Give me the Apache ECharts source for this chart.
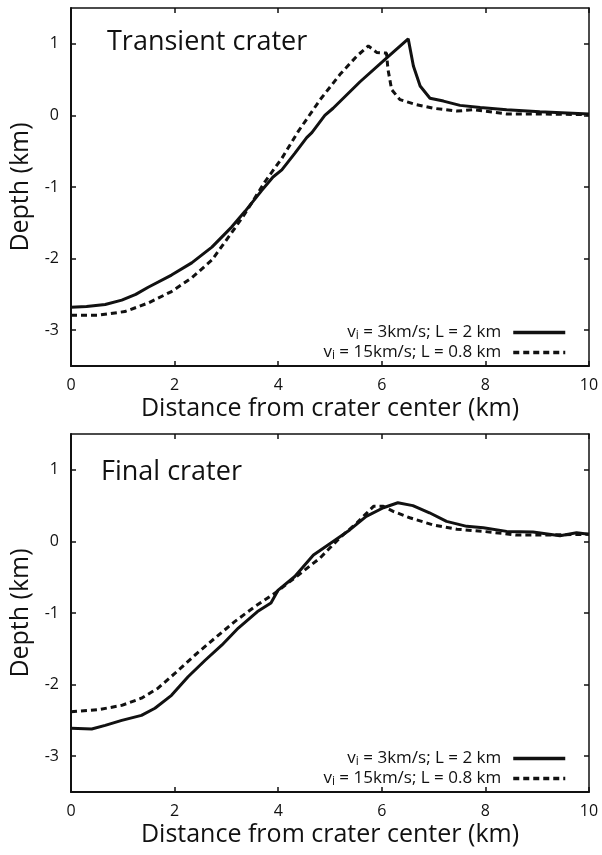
<!DOCTYPE html>
<html>
<head>
<meta charset="utf-8">
<script src="https://cdn.jsdelivr.net/npm/echarts@6/dist/echarts.min.js"></script>
<style>
  html, body { margin: 0; padding: 0; background: #fff; }
  #chart { width: 602px; height: 855px; }
</style>
</head>
<body>
<div id="chart"></div>
<script>
// series names (legend)
var nameA = 'vi = 3km/s; L = 2 km';
var nameB = 'vi = 15km/s; L = 0.8 km';

// transient crater, vi = 3 km/s
var transAX = [0, 0.3, 0.66, 0.98, 1.25, 1.49, 1.94, 2.33, 2.72, 3.1, 3.36, 3.68, 3.9, 4.07, 4.32, 4.55, 4.65, 4.9, 5.06, 5.58, 6.09, 6.51, 6.61, 6.74, 6.93, 7.19, 7.51, 7.9, 8.41, 9.05, 10];
var transAY = [-2.68, -2.67, -2.64, -2.58, -2.5, -2.4, -2.23, -2.06, -1.84, -1.56, -1.34, -1.05, -0.86, -0.76, -0.53, -0.31, -0.24, 0.0, 0.1, 0.47, 0.8, 1.07, 0.69, 0.41, 0.24, 0.2, 0.14, 0.11, 0.08, 0.05, 0.02];
// transient crater, vi = 15 km/s
var transBX = [0, 0.53, 1.04, 1.49, 1.94, 2.33, 2.72, 3.1, 3.36, 3.75, 4.07, 4.39, 4.81, 5.19, 5.52, 5.74, 5.9, 6.09, 6.12, 6.19, 6.35, 6.67, 6.99, 7.45, 7.77, 8.41, 9.05, 10];
var transBY = [-2.79, -2.79, -2.74, -2.62, -2.46, -2.27, -2.02, -1.64, -1.37, -0.92, -0.6, -0.22, 0.22, 0.57, 0.83, 0.97, 0.88, 0.87, 0.64, 0.36, 0.22, 0.15, 0.1, 0.06, 0.08, 0.02, 0.02, 0.01];

// final crater, vi = 3 km/s
var finalAX = [0, 0.4, 0.66, 0.98, 1.36, 1.62, 1.94, 2.26, 2.59, 2.91, 3.23, 3.6, 3.86, 4.0, 4.32, 4.68, 5.06, 5.38, 5.7, 6.03, 6.31, 6.6, 6.92, 7.25, 7.64, 7.96, 8.41, 8.92, 9.44, 9.76, 10];
var finalAY = [-2.61, -2.62, -2.57, -2.5, -2.43, -2.33, -2.15, -1.89, -1.66, -1.45, -1.21, -0.98, -0.86, -0.68, -0.49, -0.19, 0.0, 0.16, 0.35, 0.47, 0.54, 0.5, 0.4, 0.28, 0.21, 0.19, 0.14, 0.13, 0.08, 0.12, 0.1];
// final crater, vi = 15 km/s
var finalBX = [0, 0.53, 0.98, 1.36, 1.68, 2.01, 2.39, 2.78, 3.16, 3.55, 3.94, 4.39, 4.81, 5.19, 5.52, 5.84, 6.03, 6.22, 6.54, 6.99, 7.45, 7.96, 8.59, 9.24, 10];
var finalBY = [-2.38, -2.35, -2.29, -2.19, -2.05, -1.84, -1.59, -1.35, -1.12, -0.91, -0.72, -0.47, -0.23, 0.05, 0.26, 0.49, 0.49, 0.42, 0.33, 0.23, 0.17, 0.14, 0.09, 0.09, 0.1];

var panelTitles = ['Transient crater', 'Final crater'];
var depthTicks = [-3, -2, -1, 0, 1];

function pairs(xs, ys) {
    return xs.map(function (x, i) { return [x, ys[i]]; });
}

var font = 'Open Sans';
var ink = '#111';

function xAxes(gi) {
    return [{
        gridIndex: gi, type: 'value', min: 0, max: 10, interval: 2,
        name: 'Distance from crater center (km)', nameLocation: 'middle', nameGap: 30,
        nameTextStyle: { fontFamily: font, fontSize: 25, color: ink },
        axisLine: { show: true, onZero: false, lineStyle: { color: ink, width: 2 } },
        axisTick: { inside: true, length: 5, lineStyle: { color: ink, width: 1.5 } },
        axisLabel: { fontFamily: font, fontSize: 16, color: ink, margin: 11 },
        splitLine: { show: false }
    }, {
        gridIndex: gi, type: 'value', min: 0, max: 10, interval: 2, position: 'top',
        axisLine: { show: true, onZero: false, lineStyle: { color: ink, width: 1.5 } },
        axisTick: { inside: true, length: 5, lineStyle: { color: ink, width: 1.5 } },
        axisLabel: { show: false },
        splitLine: { show: false }
    }];
}

function yAxes(gi) {
    return [{
        gridIndex: gi, type: 'value', min: -3.5, max: 1.5,
        name: 'Depth (km)', nameLocation: 'middle', nameGap: 24,
        nameTextStyle: { fontFamily: font, fontSize: 25, color: ink },
        axisLine: { show: true, onZero: false, lineStyle: { color: ink, width: 2 } },
        axisTick: { inside: true, length: 5, customValues: depthTicks, lineStyle: { color: ink, width: 1.5 } },
        axisLabel: { fontFamily: font, fontSize: 16, color: ink, margin: 12, customValues: depthTicks },
        splitLine: { show: false }
    }, {
        gridIndex: gi, type: 'value', min: -3.5, max: 1.5, position: 'right',
        axisLine: { show: true, onZero: false, lineStyle: { color: ink, width: 1.5 } },
        axisTick: { inside: true, length: 5, customValues: depthTicks, lineStyle: { color: ink, width: 1.5 } },
        axisLabel: { show: false },
        splitLine: { show: false }
    }];
}

function line(name, data, gi, dashed) {
    return {
        name: name, type: 'line', data: data,
        xAxisIndex: gi * 2, yAxisIndex: gi * 2,
        showSymbol: false, symbol: 'none', smooth: false,
        lineStyle: { color: ink, width: 3, type: dashed ? [6, 4] : 'solid' },
        itemStyle: { color: ink },
        animation: false
    };
}

var legendRich = {
    a: { fontFamily: font, fontSize: 17, color: ink, lineHeight: 19 },
    s: { fontFamily: font, fontSize: 12, color: ink, lineHeight: 19, verticalAlign: 'bottom', padding: [8, 0, 0, 0] }
};
function legendFmt(n) {
    return '{a|v}{s|i}{a|' + n.slice(2) + '}';
}
function legend(top) {
    return {
        top: top, right: 35, padding: 0, orient: 'vertical', align: 'right',
        itemWidth: 52, itemHeight: 14, itemGap: 0,
        data: [nameA, nameB], formatter: legendFmt,
        itemStyle: { opacity: 0 },
        lineStyle: { width: 3.5 },
        textStyle: { rich: legendRich, padding: [0, 7, 0, 0] },
        selectedMode: false
    };
}

var option = {
    backgroundColor: '#fff',
    animation: false,
    title: [
        { text: panelTitles[0], left: 102, top: 24, textStyle: { fontFamily: font, fontSize: 27, fontWeight: 'normal', color: ink } },
        { text: panelTitles[1], left: 96, top: 454, textStyle: { fontFamily: font, fontSize: 27, fontWeight: 'normal', color: ink } }
    ],
    legend: [legend(322), legend(748)],
    grid: [
        { left: 71, top: 8, width: 518, height: 358 },
        { left: 71, top: 434, width: 518, height: 358 }
    ],
    xAxis: xAxes(0).concat(xAxes(1)),
    yAxis: yAxes(0).concat(yAxes(1)),
    series: [
        line(nameA, pairs(transAX, transAY), 0, false),
        line(nameB, pairs(transBX, transBY), 0, true),
        line(nameA, pairs(finalAX, finalAY), 1, false),
        line(nameB, pairs(finalBX, finalBY), 1, true)
    ]
};

var myChart = echarts.init(document.getElementById('chart'));
myChart.setOption(option);
</script>
</body>
</html>
